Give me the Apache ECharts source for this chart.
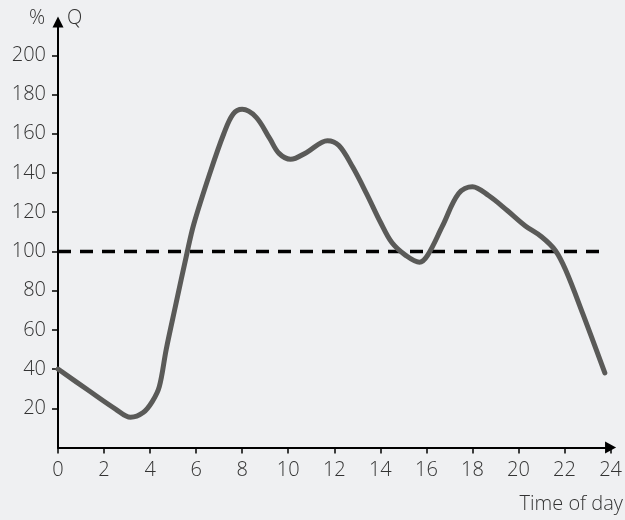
<!DOCTYPE html>
<html>
<head>
<meta charset="utf-8">
<script src="https://cdn.jsdelivr.net/npm/echarts@6/dist/echarts.min.js"></script>
<style>
html,body{margin:0;padding:0;background:#eff0f2;}
#c{width:625px;height:520px;}
</style>
</head>
<body>
<div id="c"></div>
<script>
// Data
const hours  = [0, 1.3, 2.5, 3.15, 3.7, 4.1, 4.4, 4.7, 5.1, 5.6, 5.9, 6.6, 7.2, 7.6, 8.0, 8.6, 9.2, 9.6, 10.1, 10.8, 11.7, 12.2, 12.8, 13.4, 14.0, 14.5, 15.1, 15.7, 16.05, 16.7, 17.4, 18.0, 18.7, 19.5, 20.3, 21.0, 21.6, 22.05, 22.8, 23.75];
const values = [40, 29.3, 19.6, 15.4, 17.8, 23.5, 31, 50, 72, 99, 114, 140, 160, 170, 172.5, 168.5, 157.5, 150, 147, 150.5, 156.5, 154, 143, 129.5, 115, 104.5, 98, 94.5, 98, 113, 129.5, 133, 128.5, 121, 113, 107.5, 100.5, 90.5, 68, 38];
const refHours = [0, 23.75];
const refValues = [100, 100];
const xTicks = [0, 2, 4, 6, 8, 10, 12, 14, 16, 18, 20, 22, 24];
const yTicks = [20, 40, 60, 80, 100, 120, 140, 160, 180, 200];

const FONT = '"Open Sans", sans-serif';
const chart = echarts.init(document.getElementById('c'), null, {renderer: 'canvas'});
chart.setOption({
  backgroundColor: '#eff0f2',
  animation: false,
  grid: {left: 58, right: 14, top: 22, bottom: 72.5, containLabel: false},
  xAxis: {
    type: 'value', min: 0, max: 24, interval: 2,
    axisLine: {show: true, lineStyle: {color: '#000', width: 2}, symbol: ['none', 'triangle'], symbolSize: [12, 11]},
    axisTick: {show: true, length: 6, lineStyle: {color: '#000', width: 1.5}},
    axisLabel: {
      color: '#333', fontFamily: FONT, fontWeight: 300, fontSize: 20, margin: 13,
      formatter: v => xTicks.includes(v) ? String(v) : ''
    },
    splitLine: {show: false}
  },
  yAxis: {
    type: 'value', min: 0, max: 217, interval: 20,
    axisLine: {show: true, lineStyle: {color: '#000', width: 2}, symbol: ['none', 'triangle'], symbolSize: [11, 11]},
    axisTick: {show: true, length: 6, lineStyle: {color: '#000', width: 1.5}},
    axisLabel: {
      color: '#333', fontFamily: FONT, fontWeight: 300, fontSize: 20, margin: 12,
      showMinLabel: false, showMaxLabel: false,
      formatter: v => yTicks.includes(v) ? String(v) : ''
    },
    splitLine: {show: false}
  },
  graphic: [
    {type: 'text', left: 29, top: 8, style: {text: '%', fill: '#333', font: '300 20px ' + FONT}},
    {type: 'text', left: 67, top: 8, style: {text: 'Q', fill: '#333', font: '300 20px ' + FONT}},
    {type: 'text', right: 2, top: 494, style: {text: 'Time of day', fill: '#333', font: '300 20px ' + FONT}}
  ],
  series: [
    {
      type: 'line', data: refHours.map((h, i) => [h, refValues[i]]),
      symbol: 'none', silent: true,
      lineStyle: {color: '#000', width: 3.5, type: [13, 9]}
    },
    {
      type: 'line', data: hours.map((h, i) => [h, values[i]]),
      symbol: 'none', smooth: 0.35, clip: false,
      lineStyle: {color: '#5a5a58', width: 5, cap: 'round'}
    }
  ]
});
</script>
</body>
</html>
